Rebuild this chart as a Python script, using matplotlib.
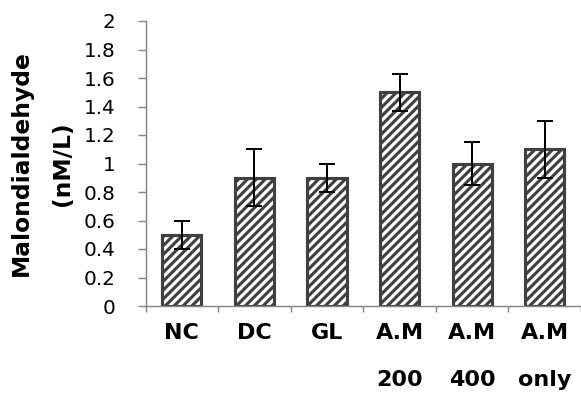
import matplotlib
matplotlib.use("Agg")
import matplotlib.pyplot as plt
import numpy as np

groups = ["NC", "DC", "GL", "A.M\n200", "A.M\n400", "A.M\nonly"]
mda = [0.5, 0.9, 0.9, 1.5, 1.0, 1.1]
mda_err = [0.1, 0.2, 0.1, 0.13, 0.15, 0.2]
yticks = [0, 0.2, 0.4, 0.6, 0.8, 1, 1.2, 1.4, 1.6, 1.8, 2]
ytick_labels = ["0", "0.2", "0.4", "0.6", "0.8", "1", "1.2", "1.4", "1.6", "1.8", "2"]

plt.rcParams["font.family"] = ["DejaVu Sans"]
plt.rcParams["hatch.linewidth"] = 2.8
plt.rcParams["hatch.color"] = "black"

dpi = 80
fig = plt.figure(figsize=(581 / dpi, 398 / dpi), dpi=dpi)
ax = fig.add_axes([145.5 / 581, 1 - 306 / 398, 1 - 145.5 / 581, (306 - 21) / 398])

x = np.arange(len(groups))
ax.bar(x, mda, width=0.54, color="white", edgecolor="#404040",
       linewidth=2.8, hatch="///", zorder=2)
ax.errorbar(x, mda, yerr=mda_err, fmt="none", ecolor="black",
            elinewidth=1.8, capsize=7.5, capthick=1.8, zorder=3)

ax.set_xlim(-0.5, len(groups) - 0.5)
ax.set_ylim(0, 2)
ax.set_yticks(yticks)
ax.set_yticklabels(ytick_labels)
ax.set_xticks(x)
ax.set_xticklabels(groups, fontweight="bold", fontsize=20, linespacing=2.7)
ax.set_xticks(np.arange(-0.5, len(groups)), minor=True)

gray = "#868686"
for s in ["top", "right"]:
    ax.spines[s].set_visible(False)
ax.spines["left"].set_color(gray)
ax.spines["bottom"].set_color(gray)
ax.spines["left"].set_linewidth(1.3)
ax.spines["bottom"].set_linewidth(1.3)
ax.tick_params(axis="y", direction="out", length=7, width=1.3, color=gray,
               labelsize=18, pad=20)
ax.tick_params(axis="x", which="major", length=0, pad=15)
ax.tick_params(axis="x", which="minor", direction="out", length=5, width=1.3, color=gray)

fig.text(42 / 581, 1 - 163.5 / 398, "Malondialdehyde\n(nM/L)", rotation=90,
         ha="center", va="center", multialignment="center",
         fontsize=21, fontweight="bold", linespacing=2.0)

fig.savefig("out.png", dpi=dpi)
